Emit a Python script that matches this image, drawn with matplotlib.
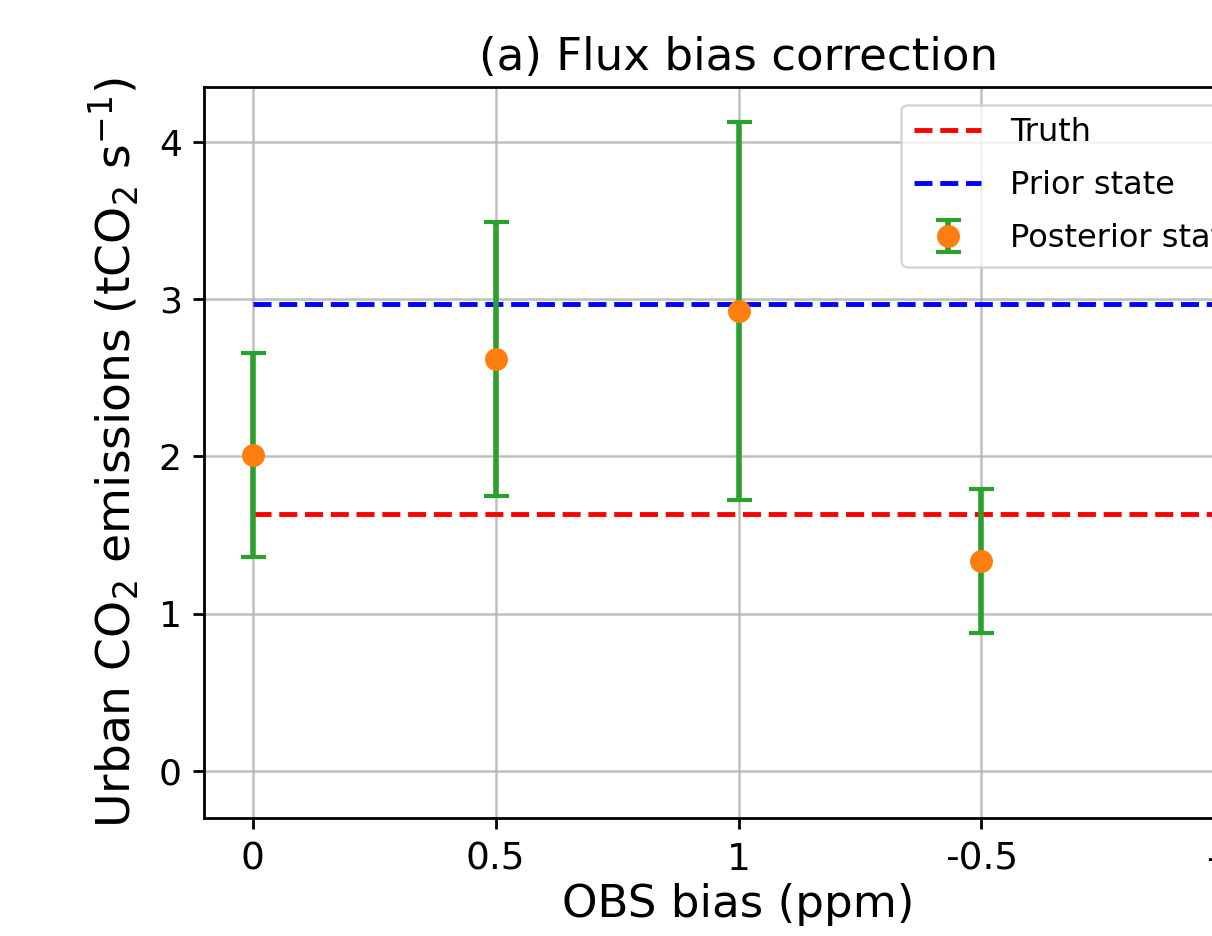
import numpy as np
import matplotlib
matplotlib.use('Agg')
import matplotlib.pyplot as plt

# OBS bias experiments (category order as run)
bias_labels = ['0', '0.5', '1', '-0.5', '-1']
posterior = [2.01, 2.62, 2.925, 1.335, 0.595]
posterior_err = [0.65, 0.87, 1.205, 0.46, 0.685]
truth = 1.634
prior = 2.97

x = np.arange(len(bias_labels))

fig = plt.figure(figsize=(12.12, 9.36), dpi=100)
ax = fig.add_axes([204 / 1212, 118 / 936, 1069 / 1212, 731 / 936])

ax.plot(x, [truth] * len(x), 'r--', lw=3.5, label='Truth', zorder=2)
ax.plot(x, [prior] * len(x), 'b--', lw=3.5, label='Prior state', zorder=2)
ax.errorbar(x, posterior, yerr=posterior_err, fmt='o', color='tab:orange',
            ecolor='tab:green', elinewidth=4, capsize=9, capthick=3,
            markersize=15.5, label='Posterior state', zorder=3)

ax.set_xticks(x)
ax.set_xticklabels(bias_labels)
ax.set_xlim(-0.2, 4.2)
ax.set_ylim(-0.3, 4.35)
ax.set_yticks([0, 1, 2, 3, 4])

ax.grid(True, color='#b0b0b0', lw=1.8, alpha=0.8, zorder=0)
ax.set_axisbelow(True)
for s in ax.spines.values():
    s.set_linewidth(2)
ax.tick_params(width=2, length=8)
ax.tick_params(axis='x', labelsize=27, pad=9)
ax.tick_params(axis='y', labelsize=26, pad=8)

ax.set_title('(a) Flux bias correction', fontsize=32.5, pad=12)
ax.set_xlabel('OBS bias (ppm)', fontsize=32.5, labelpad=4)
ax.set_ylabel('Urban CO$_2$ emissions (tCO$_2$ s$^{-1}$)', fontsize=34, labelpad=12)

leg = ax.legend(loc='upper right', fontsize=23, handlelength=2.1,
                labelspacing=0.68, borderaxespad=0.55, handletextpad=0.9)
leg.get_frame().set_linewidth(1.8)

fig.savefig('out.png', dpi=100)
